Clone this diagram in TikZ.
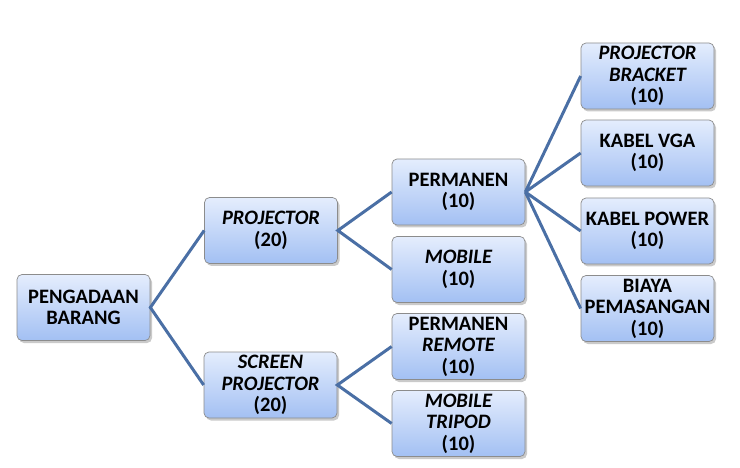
\documentclass[tikz,border=0pt]{standalone}
\usepackage{fontspec}
\setmainfont{Carlito}
\usetikzlibrary{shadows}
\definecolor{boxtop}{HTML}{E4EDFD}
\definecolor{boxbot}{HTML}{A3C0F3}
\definecolor{boxline}{HTML}{8C8C8C}
\definecolor{conn}{HTML}{4A6FA5}
\tikzset{
  itembox/.style={draw=boxline, line width=0.7pt, rounded corners=5pt,
    top color=boxtop, bottom color=boxbot,
    minimum width=133pt, minimum height=66pt, inner sep=1pt,
    align=center, font=\fontsize{20.5}{21.5}\selectfont\bfseries,
    drop shadow={opacity=0.35, shadow xshift=2pt, shadow yshift=-2.5pt, fill=black!60}},
  link/.style={draw=conn, line width=3pt}
}
\begin{document}
\begin{tikzpicture}[x=1pt,y=-1pt]
\useasboundingbox (0,0) rectangle (740,468);
\node[itembox] (root) at (83.5,307.5) {PENGADAAN\\BARANG};
\node[itembox] (proj) at (271,230.5) {\itshape PROJECTOR\\(20)};
\node[itembox] (scr) at (270.5,385) {\itshape SCREEN\\\itshape PROJECTOR\\(20)};
\node[itembox] (perm) at (458.5,192) {PERMANEN\\(10)};
\node[itembox] (mob) at (458.5,269.5) {\itshape MOBILE\\(10)};
\node[itembox] (permr) at (458.5,346.5) {PERMANEN\\\itshape REMOTE\\(10)};
\node[itembox] (mobt) at (458.5,423.5) {\itshape MOBILE\\\itshape TRIPOD\\(10)};
\node[itembox] (brk) at (647.5,76) {\itshape PROJECTOR\\\itshape BRACKET\\(10)};
\node[itembox] (vga) at (647.5,153) {KABEL VGA\\(10)};
\node[itembox] (pow) at (647.5,231) {KABEL POWER\\(10)};
\node[itembox] (biaya) at (647.5,308.5) {BIAYA\\PEMASANGAN\\(10)};
\draw[link] (proj.west) -- (root.east) -- (scr.west);
\draw[link] (perm.west) -- (proj.east) -- (mob.west);
\draw[link] (permr.west) -- (scr.east) -- (mobt.west);
\draw[link] (perm.east) -- (brk.west);
\draw[link] (perm.east) -- (vga.west);
\draw[link] (perm.east) -- (pow.west);
\draw[link] (perm.east) -- (biaya.west);
\end{tikzpicture}
\end{document}
